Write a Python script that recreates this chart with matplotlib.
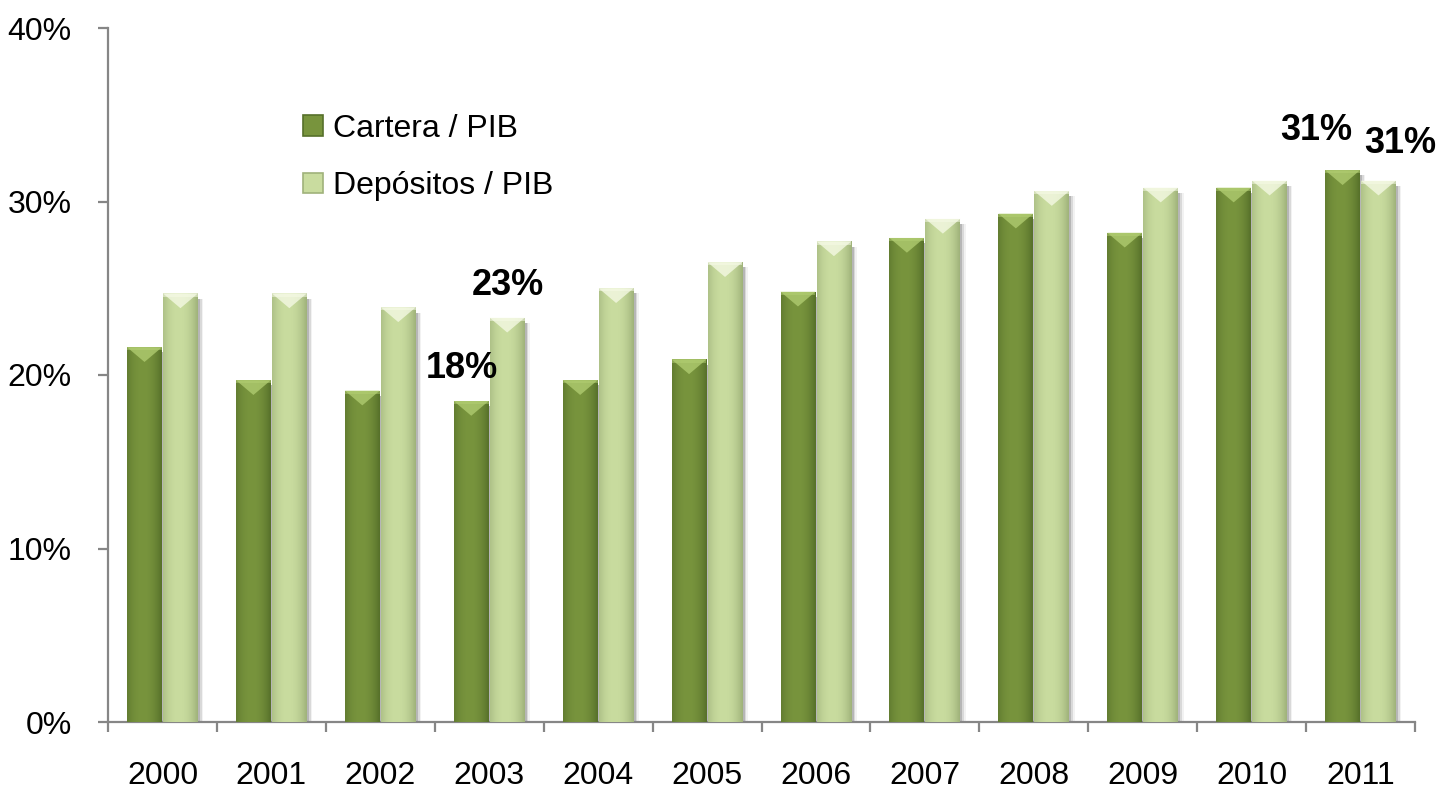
import matplotlib
matplotlib.use("Agg")
import matplotlib.pyplot as plt
import numpy as np
from matplotlib.colors import to_rgb
from matplotlib.patches import Polygon, Rectangle

plt.rcParams['font.family'] = ['Liberation Sans', 'DejaVu Sans']

# ---- data ----
years = ["2000", "2001", "2002", "2003", "2004", "2005",
         "2006", "2007", "2008", "2009", "2010", "2011"]
cartera = [21.6, 19.7, 19.1, 18.5, 19.7, 20.9, 24.8, 27.9, 29.3, 28.2, 30.8, 31.8]
depositos = [24.7, 24.7, 23.9, 23.3, 25.0, 26.5, 27.7, 29.0, 30.6, 30.8, 31.2, 31.2]
series_names = ["Cartera / PIB", "Depósitos / PIB"]
yticks = [0, 10, 20, 30, 40]
ytick_labels = ["0%", "10%", "20%", "30%", "40%"]
# annotations: (series index, year index, text, offset in pixels)
annotations = [(0, 3, "18%", (-9, 33)), (1, 3, "23%", (1, 32)),
               (0, 11, "31%", (-26, 40)), (1, 11, "31%", (22, 37))]

dark_main = "#78943D"
dark_edge = "#56702A"
dark_hi = "#B3CF73"
light_main = "#C9DC9F"
light_edge = "#9FB27A"
light_hi = "#F7FBE8"
axis_col = "#868686"

fig = plt.figure(figsize=(14.41, 7.92), dpi=100)
ax = fig.add_axes([108 / 1441, 70 / 792, 1307 / 1441, 694 / 792])

x = np.arange(len(years))
w = 0.32
off = 0.165


def grad_row(main, edge):
    m = np.array(to_rgb(main))
    e = np.array(to_rgb(edge))
    t = np.linspace(0, 1, 64)
    # darker at edges, brightest a bit right of centre
    prof = np.clip(1 - np.abs((t - 0.45) / 0.55) ** 2.2, 0, 1)
    cols = e[None, :] * (1 - prof[:, None]) + m[None, :] * prof[:, None]
    return cols[None, :, :]


def draw_bars(xpos, vals, main, edge, hi, z):
    bars = ax.bar(xpos, vals, w, color=main, edgecolor="none", zorder=z)
    img = grad_row(main, edge)
    for r in bars.patches:
        x0, y0 = r.get_x(), r.get_y()
        bw, bh = r.get_width(), r.get_height()
        # soft shadow to the right
        for k, a in zip([0.02, 0.035, 0.05], [0.16, 0.10, 0.05]):
            ax.add_patch(Rectangle((x0 + bw, 0), k, bh - 0.3, color="black",
                                   alpha=a, lw=0, zorder=z - 1))
        im = ax.imshow(img, extent=[x0, x0 + bw, y0, y0 + bh], aspect="auto",
                       zorder=z + 0.1, interpolation="bilinear")
        im.set_clip_path(r)
        d = 0.85
        tri = Polygon([[x0, bh], [x0 + bw, bh], [x0 + bw / 2, bh - d]],
                      closed=True, color=hi, alpha=0.75, lw=0, zorder=z + 0.2)
        ax.add_patch(tri)
        ax.add_patch(Rectangle((x0, bh - 0.18), bw, 0.18, color=hi, alpha=0.5,
                               lw=0, zorder=z + 0.2))
    return bars


b1 = draw_bars(x - off, cartera, dark_main, dark_edge, dark_hi, 3)
b2 = draw_bars(x + off, depositos, light_main, light_edge, light_hi, 3)

ax.set_xlim(-0.5, len(years) - 0.5)
ax.set_ylim(0, 40)

for s in ["top", "right"]:
    ax.spines[s].set_visible(False)
for s in ["left", "bottom"]:
    ax.spines[s].set_color(axis_col)
    ax.spines[s].set_linewidth(1.6)

ax.set_yticks(yticks)
ax.set_yticklabels(ytick_labels)
ax.tick_params(axis="y", direction="out", length=7.2, width=1.6, color=axis_col,
               labelsize=23, pad=19)
ax.set_xticks(x)
ax.set_xticklabels(years)
ax.tick_params(axis="x", which="major", length=0, labelsize=23, pad=28)
ax.set_xticks(np.arange(-0.5, len(years)), minor=True)
ax.tick_params(axis="x", which="minor", direction="out", length=7.2, width=1.6,
               color=axis_col)

# annotations
all_series = [cartera, depositos]
offs = [-off, off]
for si, yi, txt, (dx, dy) in annotations:
    ax.annotate(txt, (x[yi] + offs[si], all_series[si][yi]), xytext=(dx, dy),
                textcoords="offset pixels", ha="center", va="center",
                fontsize=26, fontweight="bold", zorder=10)

# legend
h1 = Rectangle((0, 0), 1, 1, facecolor=dark_main, edgecolor=dark_edge, lw=1.2)
h2 = Rectangle((0, 0), 1, 1, facecolor=light_main, edgecolor=light_edge, lw=1.2)
fig.legend([h1, h2], series_names, loc="upper left",
           bbox_to_anchor=(303 / 1441, 1 - 114 / 792), frameon=False,
           fontsize=23, handlelength=0.62, handleheight=0.62,
           handletextpad=0.32, labelspacing=0.85, borderpad=0,
           borderaxespad=0)

fig.savefig("out.png", dpi=100)
